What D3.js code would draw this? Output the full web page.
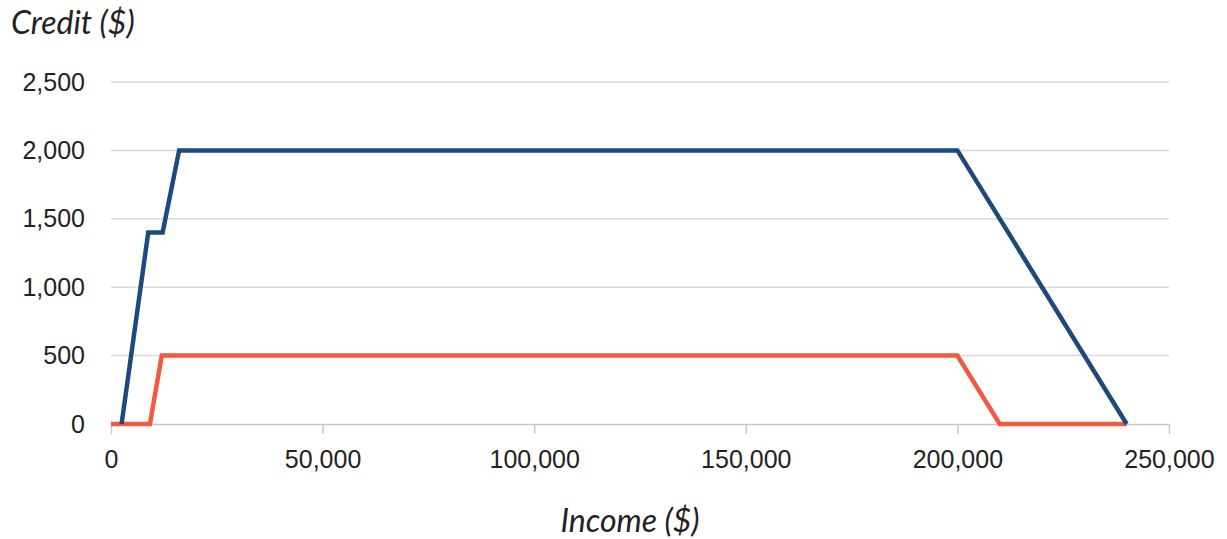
<!DOCTYPE html>
<meta charset="utf-8">
<style>
    body { margin: 0; background: #fff; }
    svg { font-family: Lato, "Open Sans", sans-serif; }
    .grid line { stroke: #d9d9d9; stroke-width: 1.5px; }
    .axis path, .axis line { stroke: #c8c8c8; stroke-width: 1.5px; }
    .axis text { fill: #222; font-size: 25px; }
    .title { fill: #222; font-size: 32px; font-style: italic; }
    .line { fill: none; stroke-width: 4.5px; stroke-linejoin: miter; }
</style>
<body>
<script src="https://d3js.org/d3.v7.min.js"></script>
<script>
    var width = 1227,
        height = 539;

    // income ($) and credit ($) break points
    var blueIncome = [2500, 8800, 12200, 16100, 200000, 240000];
    var blueCredit = [0, 1400, 1400, 2000, 2000, 0];
    var redIncome = [0, 9200, 12000, 200000, 210000, 240000];
    var redCredit = [0, 0, 500, 500, 0, 0];

    var xTicks = [0, 50000, 100000, 150000, 200000, 250000];
    var yTicks = [0, 500, 1000, 1500, 2000, 2500];

    var margin = {left: 111, right: 58, top: 82, bottom: 115};

    var svg = d3.select('body').append('svg')
        .attr('width', width)
        .attr('height', height);

    var x = d3.scaleLinear().domain([0, 250000]).range([margin.left, width - margin.right]);
    var y = d3.scaleLinear().domain([0, 2500]).range([height - margin.bottom, margin.top]);

    var fmt = d3.format(',');

    // gridlines
    svg.append('g').attr('class', 'grid')
        .selectAll('line')
        .data(yTicks.slice(1))
        .enter().append('line')
        .attr('x1', x(0)).attr('x2', x(250000))
        .attr('y1', d => y(d)).attr('y2', d => y(d));

    var xAxis = svg.append('g').attr('class', 'axis')
        .attr('transform', 'translate(0,' + y(0) + ')')
        .call(d3.axisBottom(x).tickValues(xTicks).tickFormat(fmt).tickSize(10).tickSizeOuter(0).tickPadding(16));
    xAxis.selectAll('text').attr('dy', '0.71em');

    var yAxis = svg.append('g').attr('class', 'axis')
        .attr('transform', 'translate(' + x(0) + ',0)')
        .call(d3.axisLeft(y).tickValues(yTicks).tickFormat(fmt).tickSize(0).tickPadding(26));
    yAxis.select('.domain').remove();

    var line = d3.line().x(d => x(d[0])).y(d => y(d[1]));

    svg.append('path').attr('class', 'line')
        .attr('stroke', '#f15a40')
        .attr('d', line(redIncome.map((v, i) => [v, redCredit[i]])));

    svg.append('path').attr('class', 'line')
        .attr('stroke', '#1c4a7c')
        .attr('d', line(blueIncome.map((v, i) => [v, blueCredit[i]])));

    svg.append('text').attr('class', 'title')
        .attr('x', 11).attr('y', 34)
        .text('Credit ($)');

    svg.append('text').attr('class', 'title')
        .attr('x', (x(0) + x(250000)) / 2 - 10).attr('y', 532)
        .attr('text-anchor', 'middle')
        .text('Income ($)');
</script>
</body>
